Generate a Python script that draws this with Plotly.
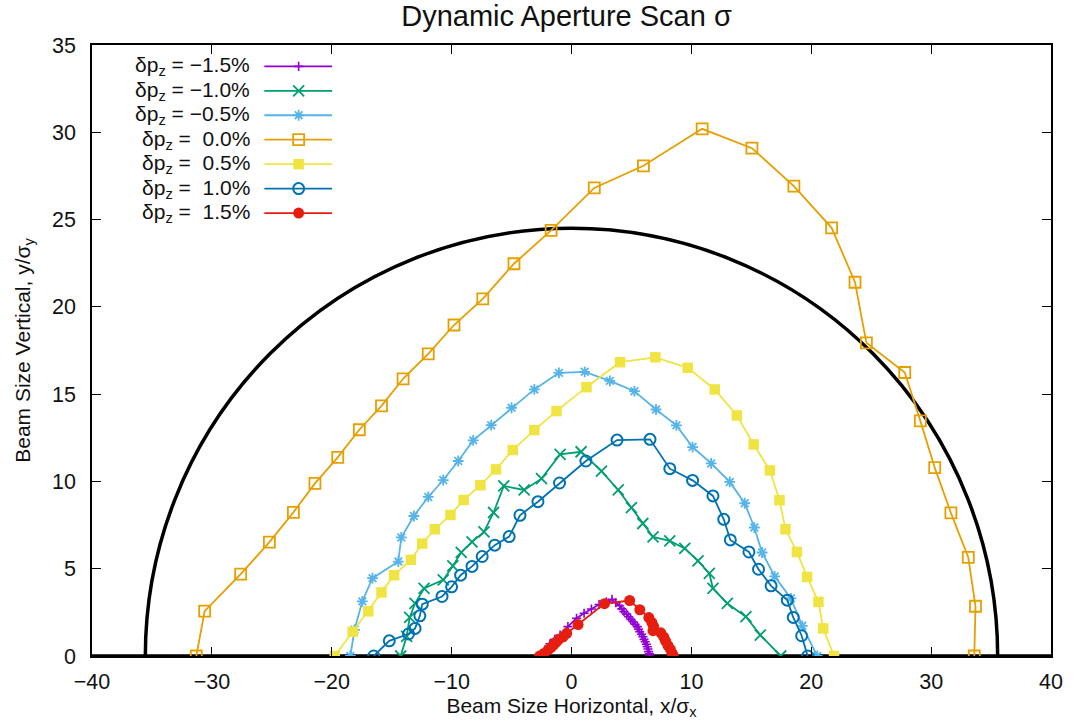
import plotly.graph_objects as go

# ---------------- data ----------------
legend_labels = [
    "δp<sub>z</sub> = −1.5%",
    "δp<sub>z</sub> = −1.0%",
    "δp<sub>z</sub> = −0.5%",
    "δp<sub>z</sub> = \u00a00.0%",
    "δp<sub>z</sub> = \u00a00.5%",
    "δp<sub>z</sub> = \u00a01.0%",
    "δp<sub>z</sub> = \u00a01.5%",
]

x_m15 = [-2.6, -2.2, -1.8, -1.4, -0.95, -0.3, 0.42, 1.05, 1.66, 2.3, 2.91, 3.38, 3.7, 4.02, 4.2,
         4.38, 4.6, 4.77, 4.95, 5.13, 5.3, 5.49, 5.6, 5.69, 5.85, 5.96, 6.05, 6.15, 6.25, 6.32,
         6.38, 6.43, 6.5, 6.52]
y_m15 = [0.0, 0.35, 0.7, 0.95, 1.2, 1.68, 2.16, 2.45, 2.69, 2.95, 3.11, 3.25, 3.05, 2.88, 2.7,
         2.54, 2.4, 2.25, 2.1, 1.96, 1.82, 1.68, 1.53, 1.39, 1.25, 1.1, 0.95, 0.82, 0.67, 0.53,
         0.4, 0.25, 0.12, 0.0]

x_m10 = [-14.25, -13.75, -13.5, -13.05, -12.3, -10.7, -9.9, -9.2, -8.3, -7.3, -6.5, -5.65, -3.95,
         -2.5, -0.95, 0.8, 2.5, 3.9, 5.0, 5.95, 6.8, 8.2, 9.45, 10.55, 11.5, 11.8, 13.0, 14.55,
         15.75, 17.45]
y_m10 = [0.0, 1.13, 2.21, 3.01, 3.87, 4.36, 5.16, 5.93, 6.54, 7.11, 8.22, 9.74, 9.51, 10.16,
         11.55, 11.7, 10.59, 9.51, 8.5, 7.59, 6.82, 6.59, 6.16, 5.45, 4.73, 3.87, 3.01, 2.25,
         1.2, 0.0]

x_m05 = [-18.45, -18.1, -17.45, -16.6, -14.45, -14.2, -13.15, -11.95, -10.7, -9.45, -8.2, -6.7,
         -5.0, -3.1, -1.05, 1.1, 3.2, 5.25, 7.05, 8.75, 10.1, 11.65, 13.2, 14.45, 15.25, 15.9,
         16.95, 18.3, 19.25, 20.5]
y_m05 = [0.0, 1.5, 3.13, 4.46, 5.41, 6.79, 8.02, 9.11, 10.08, 11.17, 12.35, 13.22, 14.22, 15.27,
         16.22, 16.28, 15.76, 15.17, 14.12, 13.21, 11.97, 11.03, 9.97, 8.75, 7.36, 5.93, 4.56,
         3.3, 1.73, 0.0]

x_p00 = [-31.3, -30.6, -27.6, -25.2, -23.2, -21.4, -19.5, -17.7, -15.85, -14.05, -11.95, -9.8,
         -7.4, -4.8, -1.7, 1.9, 6.0, 10.9, 15.05, 18.55, 21.7, 23.65, 24.6, 27.8, 29.1, 30.3,
         31.65, 33.1, 33.7, 33.6]
y_p00 = [0.0, 2.57, 4.69, 6.52, 8.23, 9.89, 11.38, 12.96, 14.33, 15.88, 17.31, 18.96, 20.46,
         22.47, 24.38, 26.81, 28.08, 30.2, 29.09, 26.92, 24.53, 21.41, 17.94, 16.24, 13.47,
         10.79, 8.2, 5.65, 2.85, 0.0]

x_p05 = [-19.75, -18.25, -16.95, -15.85, -14.8, -13.4, -12.45, -11.4, -10.1, -9.0, -7.6, -6.3,
         -4.9, -3.1, -1.25, 1.25, 4.05, 7.0, 9.7, 11.95, 13.8, 15.2, 16.55, 17.35, 17.85, 18.8,
         19.65, 20.6, 21.0, 21.9]
y_p05 = [0.0, 1.39, 2.56, 3.64, 4.63, 5.51, 6.44, 7.26, 8.08, 8.94, 9.78, 10.69, 11.8, 12.94,
         14.03, 15.4, 16.83, 17.11, 16.51, 15.27, 13.78, 12.12, 10.63, 8.92, 7.26, 5.96, 4.53,
         3.1, 1.58, 0.0]

x_p10 = [-16.5, -15.2, -13.6, -13.05, -12.65, -12.45, -10.8, -10.0, -9.25, -8.3, -7.45, -6.4,
         -5.2, -4.3, -2.8, -1.0, 1.2, 3.8, 6.55, 8.2, 10.1, 11.8, 12.7, 13.25, 14.8, 15.6, 16.65,
         18.0, 18.5, 19.2, 19.7]
y_p10 = [0.0, 0.87, 1.26, 1.58, 2.3, 2.97, 3.41, 3.96, 4.63, 5.13, 5.7, 6.35, 6.84, 8.06, 8.84,
         9.91, 11.17, 12.37, 12.41, 10.73, 10.06, 9.17, 7.83, 6.65, 5.96, 4.97, 4.02, 3.2, 2.21,
         1.16, 0.0]

x_p15 = [-2.65, -2.3, -1.95, -1.7, -1.5, -1.3, -1.1, -0.7, -0.4, 0.55, 2.75, 4.85, 5.7, 6.45,
         6.7, 6.85, 6.8, 7.45, 7.7, 7.85, 8.05, 8.25, 8.4, 8.5]
y_p15 = [0.0, 0.15, 0.35, 0.5, 0.63, 0.78, 0.92, 1.1, 1.3, 1.8, 3.0, 3.18, 2.65, 2.2, 1.92, 1.7,
         1.45, 1.33, 1.08, 0.85, 0.6, 0.38, 0.15, 0.0]

aperture_rx = 35.55
aperture_ry = 24.5

x_range = [-40, 40]
y_range = [0, 35]
x_ticks = [-40, -30, -20, -10, 0, 10, 20, 30, 40]
y_ticks = [0, 5, 10, 15, 20, 25, 30, 35]

# ---------------- styles ----------------
series = [
    (x_m15, y_m15, "#9400d3", "cross-thin", 6.5, 1.6),
    (x_m10, y_m10, "#009e73", "x-thin", 11, 1.8),
    (x_m05, y_m05, "#56b4e9", "asterisk", 9, 1.8),
    (x_p00, y_p00, "#e69f00", "square-open", 11, 1.8),
    (x_p05, y_p05, "#f0e442", "square", 10.5, 0),
    (x_p10, y_p10, "#0072b2", "circle-open", 11, 2),
    (x_p15, y_p15, "#e51e10", "circle", 11, 0),
]

FONT = "Liberation Sans, Arial, Helvetica, sans-serif"

fig = go.Figure()

for xs, ys, col, sym, size, mlw in series:
    fig.add_trace(go.Scatter(
        x=xs, y=ys, mode="lines+markers",
        line=dict(color=col, width=1.8),
        marker=dict(symbol=sym, size=size, color=col,
                    line=dict(color=col, width=mlw)),
        showlegend=False, hoverinfo="skip", cliponaxis=True,
    ))

# ---- custom gnuplot-style key (text on the left, sample on the right) ----
key_x0, key_xm, key_x1 = 0.1797, 0.2155, 0.2503
key_text_x = 0.166
key_top, key_step = 0.9650, 0.0400
for i, (lab, (xs, ys, col, sym, size, mlw)) in enumerate(zip(legend_labels, series)):
    ky = key_top - i * key_step
    fig.add_trace(go.Scatter(
        x=[key_x0, key_x1], y=[ky, ky], mode="lines",
        line=dict(color=col, width=1.8), xaxis="x2", yaxis="y2",
        showlegend=False, hoverinfo="skip"))
    fig.add_trace(go.Scatter(
        x=[key_xm], y=[ky], mode="markers",
        marker=dict(symbol=sym, size=size, color=col, line=dict(color=col, width=mlw)),
        xaxis="x2", yaxis="y2", showlegend=False, hoverinfo="skip"))
    fig.add_annotation(
        x=key_text_x, y=ky, xref="paper", yref="paper", text=lab,
        showarrow=False, xanchor="right", yanchor="middle", borderpad=0,
        font=dict(family=FONT, size=21, color="#111111"))

# aperture ellipse (upper half visible)
fig.add_shape(type="circle", xref="x", yref="y",
              x0=-aperture_rx, x1=aperture_rx, y0=-aperture_ry, y1=aperture_ry,
              line=dict(color="black", width=3.5), layer="below")
# thick baseline at y = 0
fig.add_shape(type="line", xref="paper", yref="y", x0=0, x1=1, y0=0, y1=0,
              line=dict(color="black", width=3.5), layer="below")

axis_common = dict(
    showgrid=False, zeroline=False, showline=True, linecolor="black", linewidth=1.5,
    mirror="ticks", ticks="inside", ticklen=9, tickwidth=1, tickcolor="black",
    tickfont=dict(family=FONT, size=21.5, color="#111111"),
)

fig.update_layout(
    width=1075, height=725,
    margin=dict(l=92, r=20, t=45, b=69),
    paper_bgcolor="white", plot_bgcolor="white",
    title=dict(text="Dynamic Aperture Scan σ", x=0.527, xanchor="center",
               y=1 - 16 / 725, yanchor="middle", yref="container",
               font=dict(family=FONT, size=29, color="#111111")),
    xaxis=dict(range=x_range, tickvals=x_ticks, ticklabelstandoff=5,
               title=dict(text="Beam Size Horizontal, x/σ<sub>x</sub>", standoff=4,
                          font=dict(family=FONT, size=21, color="#111111")),
               **axis_common),
    yaxis=dict(range=y_range, tickvals=y_ticks, ticklabelstandoff=10,
               title=dict(text="Beam Size Vertical, y/σ<sub>y</sub>", standoff=16,
                          font=dict(family=FONT, size=21, color="#111111")),
               **axis_common),
    xaxis2=dict(range=[0, 1], overlaying="x", visible=False, fixedrange=True),
    yaxis2=dict(range=[0, 1], overlaying="y", visible=False, fixedrange=True),
    showlegend=False,
)

fig.write_html("out.html")
